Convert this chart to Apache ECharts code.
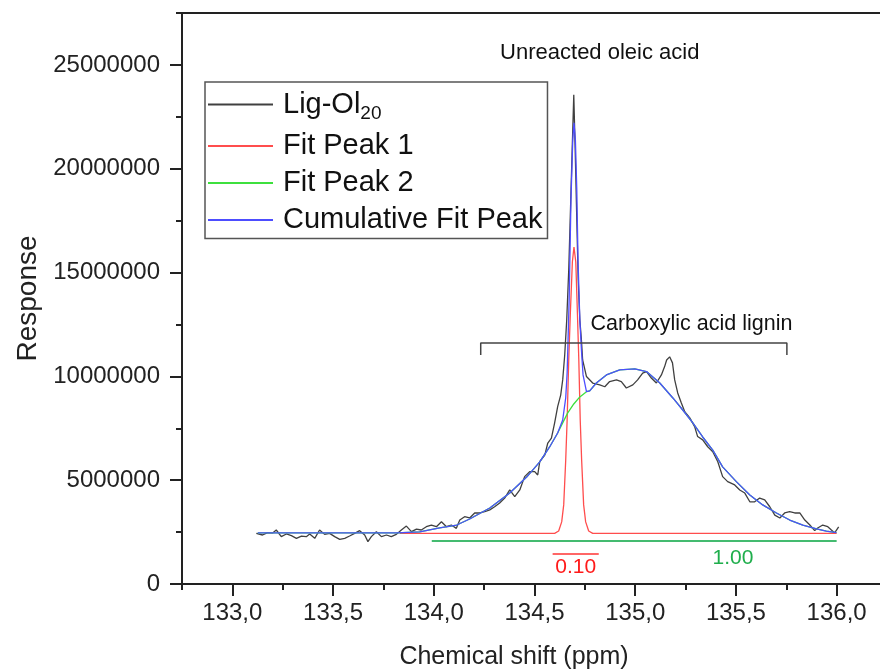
<!DOCTYPE html>
<html>
<head>
<meta charset="utf-8">
<script src="https://cdn.jsdelivr.net/npm/echarts@6/dist/echarts.min.js"></script>
<style>
  html, body { margin: 0; padding: 0; background: #fff; }
  #chart { width: 880px; height: 671px; }
</style>
</head>
<body>
<div id="chart"></div>
<script>
// axis ranges and tick labels
const xMin = 132.75, xMax = 136.25;
const yMin = 0, yMax = 27.5e6;
const xTicks = [133, 133.5, 134, 134.5, 135, 135.5, 136];
const xTickLabels = ['133,0', '133,5', '134,0', '134,5', '135,0', '135,5', '136,0'];
const yTicks = [0, 5e6, 10e6, 15e6, 20e6, 25e6];
const yTickLabels = ['0', '5000000', '10000000', '15000000', '20000000', '25000000'];

// measured spectrum (ppm, response)
const ligOl20 = [
  [133.119,2.44e6],[133.150,2.36e6],[133.175,2.47e6],[133.200,2.46e6],[133.218,2.60e6],[133.243,2.28e6],
  [133.268,2.41e6],[133.293,2.33e6],[133.318,2.20e6],[133.343,2.31e6],[133.367,2.28e6],[133.384,2.41e6],
  [133.409,2.20e6],[133.433,2.60e6],[133.458,2.39e6],[133.483,2.44e6],[133.508,2.28e6],[133.533,2.15e6],
  [133.558,2.20e6],[133.582,2.31e6],[133.607,2.44e6],[133.632,2.57e6],[133.657,2.36e6],[133.673,2.04e6],
  [133.690,2.28e6],[133.715,2.52e6],[133.740,2.28e6],[133.765,2.36e6],[133.789,2.28e6],[133.814,2.39e6],
  [133.839,2.60e6],[133.864,2.79e6],[133.889,2.52e6],[133.914,2.64e6],[133.938,2.60e6],[133.963,2.76e6],
  [133.988,2.84e6],[134.013,2.76e6],[134.038,3.00e6],[134.063,2.76e6],[134.087,2.84e6],[134.112,2.68e6],
  [134.129,3.08e6],[134.153,3.24e6],[134.178,3.18e6],[134.203,3.42e6],[134.228,3.42e6],[134.253,3.48e6],
  [134.278,3.57e6],[134.302,3.72e6],[134.327,3.90e6],[134.352,4.14e6],[134.377,4.53e6],[134.402,4.21e6],
  [134.427,4.53e6],[134.451,5.17e6],[134.476,5.41e6],[134.501,5.41e6],[134.516,5.25e6],[134.526,5.89e6],
  [134.551,6.21e6],[134.566,6.79e6],[134.584,7.03e6],[134.600,7.76e6],[134.615,8.54e6],[134.630,9.10e6],
  [134.640,9.83e6],[134.650,11.03e6],[134.660,12.72e6],[134.670,15.13e6],[134.680,18.50e6],[134.687,20.91e6],
  [134.695,23.56e6],[134.702,20.91e6],[134.710,17.53e6],[134.717,14.64e6],[134.725,12.72e6],[134.733,11.75e6],
  [134.739,10.79e6],[134.758,9.99e6],[134.789,9.68e6],[134.824,9.59e6],[134.849,9.50e6],[134.873,9.75e6],
  [134.907,9.83e6],[134.931,9.75e6],[134.956,9.44e6],[134.988,9.59e6],[135.012,9.83e6],[135.037,10.16e6],
  [135.056,10.23e6],[135.080,9.92e6],[135.105,9.68e6],[135.130,10.07e6],[135.146,10.47e6],[135.156,10.79e6],
  [135.171,10.94e6],[135.185,10.65e6],[135.196,9.83e6],[135.211,9.20e6],[135.229,8.72e6],[135.246,8.30e6],
  [135.271,8.00e6],[135.295,7.58e6],[135.310,7.10e6],[135.335,6.94e6],[135.360,6.61e6],[135.385,6.37e6],
  [135.410,5.89e6],[135.434,5.17e6],[135.459,4.93e6],[135.494,4.77e6],[135.519,4.53e6],[135.544,4.38e6],
  [135.569,3.96e6],[135.593,3.96e6],[135.618,4.14e6],[135.643,4.05e6],[135.668,3.72e6],[135.693,3.32e6],
  [135.718,3.18e6],[135.742,3.42e6],[135.767,3.48e6],[135.792,3.42e6],[135.817,3.42e6],[135.842,3.08e6],
  [135.867,2.84e6],[135.891,2.57e6],[135.906,2.70e6],[135.931,2.84e6],[135.956,2.76e6],[135.974,2.60e6],
  [135.990,2.46e6],[136.010,2.75e6]
];

// fit peak 1 (narrow oleic acid peak)
const fitPeak1 = [
  [133.831,2.44e6],[134.600,2.44e6],[134.620,2.55e6],[134.635,2.99e6],[134.645,3.81e6],[134.655,5.97e6],
  [134.662,7.90e6],[134.670,10.79e6],[134.678,13.05e6],[134.688,15.51e6],[134.696,16.23e6],[134.705,15.51e6],
  [134.713,13.05e6],[134.720,10.79e6],[134.727,7.90e6],[134.734,5.97e6],[134.744,3.81e6],[134.754,2.99e6],
  [134.769,2.55e6],[134.789,2.44e6],[136.000,2.44e6]
];

// fit peak 2 (broad lignin peak)
const fitPeak2 = [
  [133.126,2.46e6],[133.582,2.46e6],[133.816,2.46e6],[133.930,2.51e6],[134.029,2.70e6],[134.114,2.84e6],
  [134.178,3.13e6],[134.278,3.66e6],[134.377,4.38e6],[134.461,5.15e6],[134.526,5.88e6],[134.575,6.60e6],
  [134.615,7.27e6],[134.640,7.76e6],[134.665,8.24e6],[134.695,8.67e6],[134.725,9.01e6],[134.758,9.26e6],
  [134.774,9.30e6],[134.807,9.68e6],[134.857,10.07e6],[134.923,10.31e6],[134.998,10.36e6],[135.056,10.23e6],
  [135.122,9.68e6],[135.187,8.96e6],[135.236,8.38e6],[135.286,7.76e6],[135.335,7.08e6],[135.385,6.45e6],
  [135.434,5.64e6],[135.502,4.93e6],[135.569,4.29e6],[135.633,3.81e6],[135.701,3.42e6],[135.767,3.08e6],
  [135.832,2.84e6],[135.900,2.65e6],[135.949,2.55e6],[135.999,2.47e6]
];

// cumulative fit
const cumulative = [
  [133.126,2.46e6],[133.582,2.46e6],[133.816,2.46e6],[133.930,2.51e6],[134.029,2.70e6],[134.114,2.84e6],
  [134.178,3.13e6],[134.278,3.66e6],[134.377,4.38e6],[134.461,5.15e6],[134.526,5.88e6],[134.575,6.60e6],
  [134.615,7.27e6],[134.640,7.90e6],[134.655,8.96e6],[134.662,10.16e6],[134.672,13.68e6],[134.681,18.50e6],
  [134.690,21.39e6],[134.696,22.21e6],[134.703,21.39e6],[134.710,18.98e6],[134.716,15.61e6],[134.725,12.72e6],
  [134.733,11.27e6],[134.741,10.07e6],[134.758,9.26e6],[134.774,9.30e6],[134.807,9.68e6],[134.857,10.07e6],
  [134.923,10.31e6],[134.998,10.36e6],[135.056,10.23e6],[135.122,9.68e6],[135.187,8.96e6],[135.236,8.38e6],
  [135.286,7.76e6],[135.335,7.08e6],[135.385,6.45e6],[135.434,5.64e6],[135.502,4.93e6],[135.569,4.29e6],
  [135.633,3.81e6],[135.701,3.42e6],[135.767,3.08e6],[135.832,2.84e6],[135.900,2.65e6],[135.949,2.55e6],
  [135.999,2.47e6]
];

// integration marks and bracket
const integral2Line = [[133.990,2.07e6],[136.000,2.07e6]];
const integral1Line = [[134.590,1.45e6],[134.819,1.45e6]];
const bracket = [[134.233,11.03e6],[134.233,11.61e6],[135.753,11.61e6],[135.753,11.03e6]];

// annotation texts and where they sit (ppm, response)
const annoText = ['Unreacted oleic acid', 'Carboxylic acid lignin', '0.10', '1.00'];
const annoPos = [[134.824,25.59e6],[135.279,12.50e6],[134.705,0.82e6],[135.485,1.25e6]];

const FONT = '"Liberation Sans", Arial, sans-serif';
const AX = '#222';
const annoStyle = [
  { fontSize: 22, color: '#111' },
  { fontSize: 21.5, color: '#111' },
  { fontSize: 21, color: '#ff1a1a' },
  { fontSize: 21, color: '#1fae4c' }
];

function lineOf(name, data, color, width, z) {
  return {
    name: name, type: 'line', data: data, symbol: 'none', showSymbol: false,
    lineStyle: { color: color, width: width }, itemStyle: { color: color },
    silent: true, z: z
  };
}

const chart = echarts.init(document.getElementById('chart'));
const option = {
  animation: false,
  backgroundColor: '#fff',
  grid: { left: 182, top: 13, width: 705, height: 571, show: true, borderColor: AX, borderWidth: 2, outerBoundsMode: 'none' },
  legend: {
    data: ['Lig-Ol20', 'Fit Peak 1', 'Fit Peak 2', 'Cumulative Fit Peak'],
    orient: 'vertical', left: 205, top: 82,
    padding: [8, 5, 4, 3], itemGap: 8, itemWidth: 65, itemHeight: 2,
    icon: 'rect',
    borderColor: '#555', borderWidth: 1.5, backgroundColor: '#fff',
    selectedMode: false,
    formatter: function (n) { return n === 'Lig-Ol20' ? '{a|Lig-Ol}{s|20}' : '{a|' + n + '}'; },
    textStyle: {
      padding: [0, 0, 0, 5],
      rich: {
        a: { fontSize: 29, fontFamily: FONT, color: '#111' },
        s: { fontSize: 19, fontFamily: FONT, color: '#111', padding: [19, 0, 0, 0] }
      }
    }
  },
  xAxis: [
    {
      type: 'value', min: xMin, max: xMax, interval: 0.25,
      name: 'Chemical shift (ppm)', nameLocation: 'middle', nameGap: 61,
      nameTextStyle: { fontSize: 25, fontFamily: FONT, color: AX, padding: [0, 41, 0, 0] },
      axisLine: { lineStyle: { color: AX, width: 2 } },
      axisTick: { customValues: xTicks, length: 12, lineStyle: { color: AX, width: 2 } },
      axisLabel: {
        customValues: xTicks, fontSize: 24, margin: 17, color: AX, fontFamily: FONT,
        formatter: function (v) { const i = xTicks.indexOf(v); return i < 0 ? '' : xTickLabels[i]; }
      },
      splitLine: { show: false }
    },
    {
      type: 'value', min: xMin, max: xMax, interval: 0.25, position: 'bottom',
      axisLine: { show: false },
      axisTick: { length: 6, lineStyle: { color: AX, width: 2 } },
      axisLabel: { show: false }, splitLine: { show: false }
    }
  ],
  yAxis: [
    {
      type: 'value', min: yMin, max: yMax, interval: 5e6,
      name: 'Response', nameLocation: 'middle', nameGap: 140,
      nameTextStyle: { fontSize: 28, fontFamily: FONT, color: AX },
      axisLine: { lineStyle: { color: AX, width: 2 } },
      axisTick: { customValues: yTicks, length: 12, lineStyle: { color: AX, width: 2 } },
      axisLabel: {
        customValues: yTicks, fontSize: 24, margin: 22, color: AX, fontFamily: FONT,
        formatter: function (v) { const i = yTicks.indexOf(v); return i < 0 ? '' : yTickLabels[i]; }
      },
      splitLine: { show: false }
    },
    {
      type: 'value', min: yMin, max: yMax, interval: 2.5e6, position: 'left',
      axisLine: { show: false },
      axisTick: { length: 6, lineStyle: { color: AX, width: 2 } },
      axisLabel: { show: false }, splitLine: { show: false }
    }
  ],
  series: [
    lineOf('Lig-Ol20', ligOl20, '#404040', 1.3, 2),
    lineOf('Fit Peak 1', fitPeak1, '#ff4d4d', 1.3, 3),
    lineOf('Fit Peak 2', fitPeak2, '#3de03d', 1.3, 3),
    lineOf('Cumulative Fit Peak', cumulative, '#4d4dff', 1.3, 4),
    lineOf('int2', integral2Line, '#44bb70', 2, 3),
    lineOf('int1', integral1Line, '#ff3333', 1.5, 3),
    lineOf('bracket', bracket, '#444444', 1.5, 5),
    {
      type: 'scatter', symbolSize: 0, silent: true, z: 6,
      itemStyle: { color: '#fff', opacity: 1 },
      data: annoText.map(function (t, i) {
        return { name: t, value: annoPos[i], label: annoStyle[i] };
      }),
      label: {
        show: true, position: 'inside', formatter: '{b}', fontFamily: FONT,
        textBorderWidth: 0, textBorderColor: 'transparent', textShadowBlur: 0
      }
    }
  ]
};
chart.setOption(option);
</script>
</body>
</html>
